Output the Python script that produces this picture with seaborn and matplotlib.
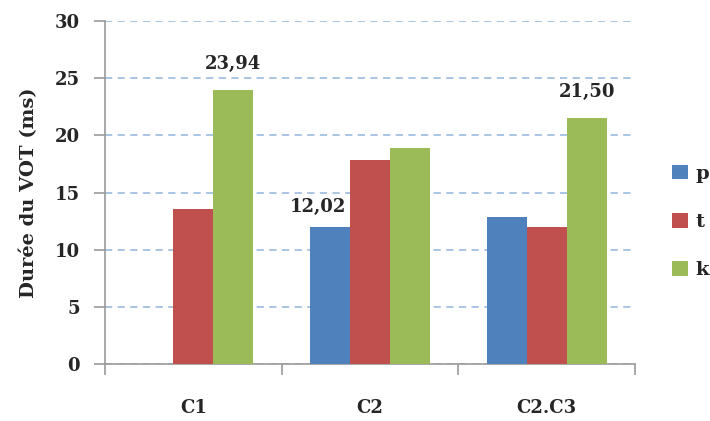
import matplotlib
matplotlib.use("Agg")
import matplotlib.pyplot as plt
import seaborn as sns
import pandas as pd
import numpy as np

categories = ["C1", "C2", "C2.C3"]
series = ["p", "t", "k"]
p_values = [np.nan, 12.02, 12.9]
t_values = [13.55, 17.85, 11.95]
k_values = [23.94, 18.85, 21.50]
labels = {("C1", "k"): "23,94", ("C2", "p"): "12,02", ("C2.C3", "k"): "21,50"}
colors = ["#4f81bd", "#c0504d", "#9bbb59"]

rows = []
for i, c in enumerate(categories):
    for s, vals in zip(series, [p_values, t_values, k_values]):
        rows.append({"cat": c, "serie": s, "val": vals[i]})
df = pd.DataFrame(rows)

sns.set_style("white")
plt.rcParams["font.family"] = ["DejaVu Serif", "Liberation Serif"]

fig = plt.figure(figsize=(7.10, 4.21), dpi=100)
ax = fig.add_axes([105/710, 57/421, 530/710, 343/421])

sns.barplot(data=df, x="cat", y="val", hue="serie", order=categories,
            hue_order=series, palette=colors, width=0.68, saturation=1,
            ax=ax, edgecolor="none", linewidth=0, zorder=3)

ax.set_ylim(0, 30)
ax.set_xlim(-0.5, 2.5)
ax.set_yticks(range(0, 31, 5))
ax.yaxis.grid(True, linestyle=(0, (4, 3)), color="#a3c0e2", linewidth=1.3, zorder=0)
ax.set_axisbelow(True)
for s in ["top", "right"]:
    ax.spines[s].set_visible(False)
for s in ["left", "bottom"]:
    ax.spines[s].set_color("#9a9a9a")
    ax.spines[s].set_linewidth(1.2)

ax.tick_params(axis="y", which="major", length=8, width=1.2, color="#9a9a9a",
               labelsize=13, pad=10, direction="out", left=True)
ax.tick_params(axis="x", which="major", length=0, labelsize=13, pad=25)
ax.set_xticks([-0.5, 0.5, 1.5, 2.5], minor=True)
ax.tick_params(axis="x", which="minor", length=8, width=1.2, color="#9a9a9a",
               direction="out", bottom=True)
for lab in ax.get_xticklabels() + ax.get_yticklabels():
    lab.set_fontweight("bold")

ax.set_xlabel("")
ax.set_ylabel("Durée du VOT (ms)", fontsize=14, fontweight="bold", labelpad=12)

# value labels
hue_offsets = {"p": -0.68/3, "t": 0.0, "k": 0.68/3}
vals_map = {"p": p_values, "t": t_values, "k": k_values}
extra = {("C1", "k"): (0, 17), ("C2", "p"): (-12, 11), ("C2.C3", "k"): (0, 17)}
for (c, s), txt in labels.items():
    i = categories.index(c)
    x = i + hue_offsets[s]
    y = vals_map[s][i]
    dx, dy = extra[(c, s)]
    ax.annotate(txt, (x, y), xytext=(dx, dy), textcoords="offset pixels",
                ha="center", va="bottom", fontsize=13, fontweight="bold")

handles, labs = ax.get_legend_handles_labels()
ax.legend(handles, labs, loc="center left", bbox_to_anchor=(672/710, 199/421),
          bbox_transform=fig.transFigure, frameon=False,
          handlelength=0.8, handleheight=0.8, handletextpad=0.4,
          labelspacing=1.55, borderaxespad=0, borderpad=0,
          prop={"weight": "bold", "size": 14})

fig.savefig("out.png", dpi=100)
